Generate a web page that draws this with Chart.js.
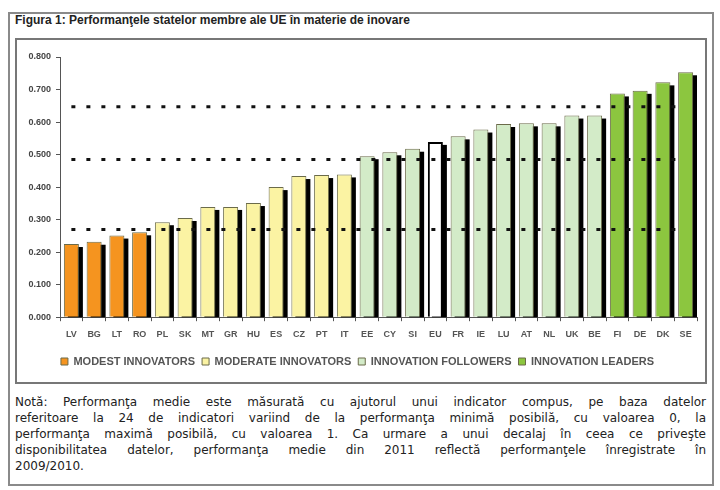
<!DOCTYPE html>
<html lang="ro">
<head>
    <meta charset="UTF-8">
    <title>Figura 1</title>
    <script src="https://cdn.jsdelivr.net/npm/chart.js"></script>
    <style>
        body {
            margin: 0;
            width: 720px;
            height: 490px;
            background: #fff;
            position: relative;
            overflow: hidden;
        }
        .outer {
            position: absolute;
            left: 8px;
            top: 12px;
            width: 702px;
            height: 470px;
            border: 2px solid #8a8a8a;
        }
        .title {
            position: absolute;
            left: 15px;
            top: 13px;
            font-family: "Liberation Sans", Arial, sans-serif;
            font-weight: bold;
            font-size: 12px;
            color: #222;
        }
        .inner {
            position: absolute;
            left: 15px;
            top: 38px;
            width: 688px;
            height: 342px;
            border: 2px solid #777;
        }
        .chart-box {
            position: absolute;
            left: 18px;
            top: 42px;
            width: 685px;
            height: 336px;
        }
        .note {
            position: absolute;
            left: 15px;
            top: 394px;
            width: 691px;
            font-family: "DejaVu Sans", Verdana, sans-serif;
            font-size: 12px;
            line-height: 16px;
            color: #222;
        }
        .note div {
            text-align: justify;
            text-align-last: justify;
        }
        .note div.last {
            text-align-last: left;
        }
    </style>
</head>
<body>
    <div class="outer"></div>
    <div class="title">Figura 1: Performanţele statelor membre ale UE în materie de inovare</div>
    <div class="inner"></div>
    <div class="chart-box">
        <canvas id="chart" width="685" height="336"></canvas>
    </div>
    <div class="note">
        <div>Notă: Performanţa medie este măsurată cu ajutorul unui indicator compus, pe baza datelor</div>
        <div>referitoare la 24 de indicatori variind de la performanţa minimă posibilă, cu valoarea 0, la</div>
        <div>performanţa maximă posibilă, cu valoarea 1. Ca urmare a unui decalaj în ceea ce priveşte</div>
        <div>disponibilitatea datelor, performanţa medie din 2011 reflectă performanţele înregistrate în</div>
        <div class="last">2009/2010.</div>
    </div>

    <script>
        const countries = ['LV', 'BG', 'LT', 'RO', 'PL', 'SK', 'MT', 'GR', 'HU', 'ES', 'CZ', 'PT', 'IT',
            'EE', 'CY', 'SI', 'EU', 'FR', 'IE', 'LU', 'AT', 'NL', 'UK', 'BE', 'FI', 'DE', 'DK', 'SE'];
        const performance = [0.225, 0.232, 0.251, 0.261, 0.292, 0.305, 0.339, 0.339, 0.351, 0.400, 0.434, 0.437, 0.439,
            0.495, 0.507, 0.518, 0.539, 0.556, 0.577, 0.594, 0.596, 0.596, 0.620, 0.620, 0.688, 0.696, 0.722, 0.753];
        // group of each country: 0 modest, 1 moderate, 2 followers, 3 leaders, -1 EU average
        const groups = [0, 0, 0, 0, 1, 1, 1, 1, 1, 1, 1, 1, 1,
            2, 2, 2, -1, 2, 2, 2, 2, 2, 2, 2, 3, 3, 3, 3];
        const groupNames = ['MODEST INNOVATORS', 'MODERATE INNOVATORS', 'INNOVATION FOLLOWERS', 'INNOVATION LEADERS'];
        const groupColors = ['#f5941f', '#fbf3a3', '#d3ebc8', '#8cc63f'];
        const thresholds = [0.647, 0.485, 0.270];
        const yTicks = [0, 0.1, 0.2, 0.3, 0.4, 0.5, 0.6, 0.7, 0.8];

        const datasets = groupNames.map((name, g) => ({
            label: name,
            data: performance.map((v, i) => groups[i] === g ? v : null),
            backgroundColor: groupColors[g],
            borderColor: '#6b6b4a',
            borderWidth: 1,
            order: 2
        }));
        datasets.push({
            label: 'EU',
            data: performance.map((v, i) => groups[i] === -1 ? v : null),
            backgroundColor: '#ffffff',
            borderColor: '#000000',
            borderWidth: 2,
            order: 2
        });
        thresholds.forEach(t => {
            datasets.push({
                type: 'line',
                label: 'prag',
                data: countries.map(() => t),
                borderColor: '#111',
                borderWidth: 3,
                borderDash: [4, 11],
                pointRadius: 0,
                fill: false,
                order: 0
            });
        });

        // black offset shadow behind each bar
        const barShadow = {
            id: 'barShadow',
            beforeDatasetsDraw(chart) {
                const ctx = chart.ctx;
                const a = chart.chartArea;
                ctx.save();
                ctx.beginPath();
                ctx.rect(a.left, a.top, a.right - a.left, a.bottom - a.top);
                ctx.clip();
                ctx.fillStyle = '#000';
                chart.data.datasets.forEach((ds, i) => {
                    if (ds.type === 'line') return;
                    chart.getDatasetMeta(i).data.forEach((bar, j) => {
                        if (ds.data[j] == null) return;
                        const p = bar.getProps(['x', 'y', 'width', 'base'], true);
                        ctx.fillRect(p.x - p.width / 2 + 4, p.y + 3, p.width, p.base - p.y);
                    });
                });
                ctx.restore();
            }
        };

        new Chart(document.getElementById('chart'), {
            type: 'bar',
            data: { labels: countries, datasets },
            plugins: [barShadow],
            options: {
                responsive: false,
                animation: false,
                skipNull: true,
                barPercentage: 0.66,
                categoryPercentage: 1,
                layout: { padding: { top: 15, right: 6, left: 0, bottom: 1 } },
                plugins: {
                    tooltip: { enabled: false },
                    legend: {
                        position: 'bottom',
                        labels: {
                            filter: item => groupNames.includes(item.text),
                            boxWidth: 7,
                            boxHeight: 7,
                            padding: 7,
                            color: '#555',
                            font: { family: 'Liberation Sans, Arial, sans-serif', size: 11, weight: 'bold' }
                        }
                    }
                },
                scales: {
                    x: {
                        afterFit: s => { s.height += 1; },
                        grid: { drawOnChartArea: false, offset: true, tickLength: 4, color: '#555' },
                        border: { color: '#555', width: 1 },
                        ticks: {
                            color: '#555',
                            padding: 8,
                            maxRotation: 0,
                            autoSkip: false,
                            font: { family: 'Liberation Sans, Arial, sans-serif', size: 9, weight: 'bold' }
                        }
                    },
                    y: {
                        min: 0,
                        max: 0.8,
                        afterFit: s => { s.width = 42; },
                        afterBuildTicks: s => { s.ticks = yTicks.map(v => ({ value: v })); },
                        grid: { drawOnChartArea: false, tickLength: 4, color: '#555' },
                        border: { color: '#555', width: 1 },
                        ticks: {
                            color: '#444',
                            padding: 5,
                            font: { family: 'Liberation Sans, Arial, sans-serif', size: 9, weight: 'bold' },
                            callback: v => v.toFixed(3)
                        }
                    }
                }
            }
        });
    </script>
</body>
</html>
